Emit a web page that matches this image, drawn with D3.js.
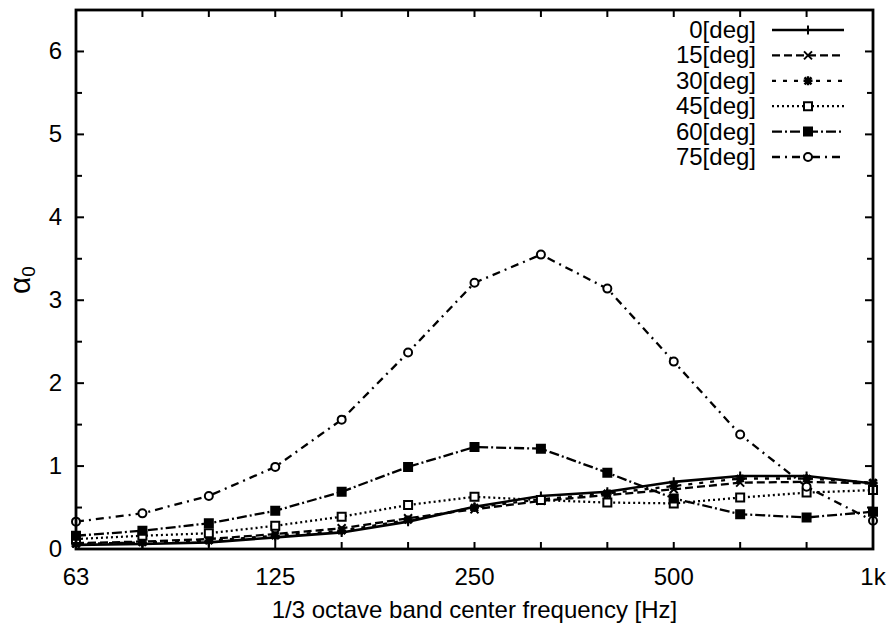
<!DOCTYPE html>
<html>
<head>
<meta charset="utf-8">
<script src="https://cdn.jsdelivr.net/npm/d3@7"></script>
<style>
body { margin:0; background:#fff; }
text { font-family:"Liberation Sans", Arial, Helvetica, sans-serif; fill:#000; }
</style>
</head>
<body>
<div id="chart"></div>
<script>
// 1/3 octave bands
var bands = ["63","80","100","125","160","200","250","315","400","500","630","800","1k"];
var xLabels = ["63","125","250","500","1k"];
var yMajor = [0,1,2,3,4,5,6];
var yMinor = [0.5,1.5,2.5,3.5,4.5,5.5,6.5];
var names = ["0[deg]","15[deg]","30[deg]","45[deg]","60[deg]","75[deg]"];

var deg0  = [0.05,0.06,0.08,0.14,0.20,0.33,0.51,0.64,0.69,0.81,0.88,0.88,0.79];
var deg15 = [0.07,0.09,0.12,0.18,0.25,0.37,0.48,0.58,0.65,0.72,0.80,0.81,0.79];
var deg30 = [0.06,0.08,0.10,0.16,0.22,0.35,0.50,0.60,0.67,0.76,0.85,0.85,0.80];
var deg45 = [0.12,0.16,0.19,0.28,0.39,0.53,0.63,0.59,0.56,0.55,0.62,0.68,0.71];
var deg60 = [0.16,0.22,0.31,0.46,0.69,0.99,1.23,1.21,0.92,0.61,0.42,0.38,0.45];
var deg75 = [0.33,0.43,0.64,0.99,1.56,2.37,3.21,3.55,3.14,2.26,1.38,0.75,0.34];

var allSeries = [deg0,deg15,deg30,deg45,deg60,deg75];
var dashes = ["none","8,4","4,7","2,3","10,3,2,3","8,5,2,5"];
var markers = ["plus","cross","star","square","fsquare","circle"];

var size = {margin_left:76, margin_top:10, width:892, height:634};
size.inner_width = 873 - size.margin_left;
size.inner_height = 549 - size.margin_top;

var svg = d3.select("#chart").append("svg")
  .attr("width", size.width)
  .attr("height", size.height);

var g = svg.append("g")
  .attr("transform","translate(" + size.margin_left + "," + size.margin_top + ")");

var x = d3.scalePoint().domain(bands).range([0, size.inner_width]).padding(0);
var y = d3.scaleLinear().domain([0, 6.5]).range([size.inner_height, 0]);

function markerPath(type) {
  if (type == "plus") return "M-4.5,0H4.5M0,-4.5V4.5";
  if (type == "cross") return "M-4,-4L4,4M-4,4L4,-4";
  if (type == "star") return "M-4.5,0H4.5M0,-4.5V4.5M-3.5,-3.5L3.5,3.5M-3.5,3.5L3.5,-3.5";
  if (type == "square" || type == "fsquare") return "M-4,-4H4V4H-4Z";
  return "M-4,0A4,4 0 1,0 4,0A4,4 0 1,0 -4,0Z";
}

function drawMarker(sel, type) {
  sel.append("path")
    .attr("d", markerPath(type))
    .attr("fill", type == "fsquare" ? "#000" : (type == "square" || type == "circle") ? "#fff" : "none")
    .attr("stroke", "#000")
    .attr("stroke-width", type == "star" ? 2.4 : 2);
}

// ticks (inward, all four sides)
var tk = g.append("g").attr("stroke","#000").attr("stroke-width",2);
yMajor.forEach(function(v){
  tk.append("line").attr("x1",0).attr("x2",8).attr("y1",y(v)).attr("y2",y(v));
  tk.append("line").attr("x1",size.inner_width).attr("x2",size.inner_width-8).attr("y1",y(v)).attr("y2",y(v));
});
yMinor.forEach(function(v){
  tk.append("line").attr("x1",0).attr("x2",6).attr("y1",y(v)).attr("y2",y(v));
  tk.append("line").attr("x1",size.inner_width).attr("x2",size.inner_width-6).attr("y1",y(v)).attr("y2",y(v));
});
bands.forEach(function(b){
  tk.append("line").attr("x1",x(b)).attr("x2",x(b)).attr("y1",size.inner_height).attr("y2",size.inner_height-7);
  tk.append("line").attr("x1",x(b)).attr("x2",x(b)).attr("y1",0).attr("y2",7);
});

// tick labels
g.selectAll(".ylab").data(yMajor).enter().append("text")
  .attr("x",-14).attr("y",function(d){return y(d)+8;})
  .attr("text-anchor","end").attr("font-size",24)
  .text(function(d){return d;});
g.selectAll(".xlab").data(xLabels).enter().append("text")
  .attr("x",function(d){return x(d);}).attr("y",585 - size.margin_top)
  .attr("text-anchor","middle").attr("font-size",24)
  .text(function(d){return d;});

// axis titles
svg.append("text")
  .attr("x", size.margin_left + size.inner_width/2).attr("y",618)
  .attr("text-anchor","middle").attr("font-size",24)
  .text("1/3 octave band center frequency [Hz]");
var yt = svg.append("text")
  .attr("transform","translate(30,280) rotate(-90)")
  .attr("text-anchor","middle").attr("font-size",30);
yt.append("tspan").text("α");
yt.append("tspan").attr("font-size",19).attr("dy",5).text("0");

// series
var line = d3.line()
  .x(function(d,i){return x(bands[i]);})
  .y(function(d){return y(d);});

allSeries.forEach(function(s, k){
  g.append("path").datum(s)
    .attr("d", line)
    .attr("fill","none").attr("stroke","#000")
    .attr("stroke-width", k == 0 ? 2.6 : 2.3)
    .attr("stroke-dasharray", dashes[k]);
  s.forEach(function(v,i){
    var m = g.append("g").attr("transform","translate(" + x(bands[i]) + "," + y(v) + ")");
    drawMarker(m, markers[k]);
  });
});

// frame
g.append("rect").attr("x",0).attr("y",0)
  .attr("width",size.inner_width).attr("height",size.inner_height)
  .attr("fill","none").attr("stroke","#000").attr("stroke-width",2.8);

// legend
var leg = svg.append("g");
names.forEach(function(n,k){
  var ly = 30 + k*25.4;
  leg.append("text").attr("x",756).attr("y",ly+8)
    .attr("text-anchor","end").attr("font-size",24).text(n);
  leg.append("line").attr("x1",772).attr("x2",844).attr("y1",ly).attr("y2",ly)
    .attr("stroke","#000").attr("stroke-width", k == 0 ? 2.6 : 2.3)
    .attr("stroke-dasharray", dashes[k]);
  var m = leg.append("g").attr("transform","translate(808," + ly + ")");
  drawMarker(m, markers[k]);
});
</script>
</body>
</html>
